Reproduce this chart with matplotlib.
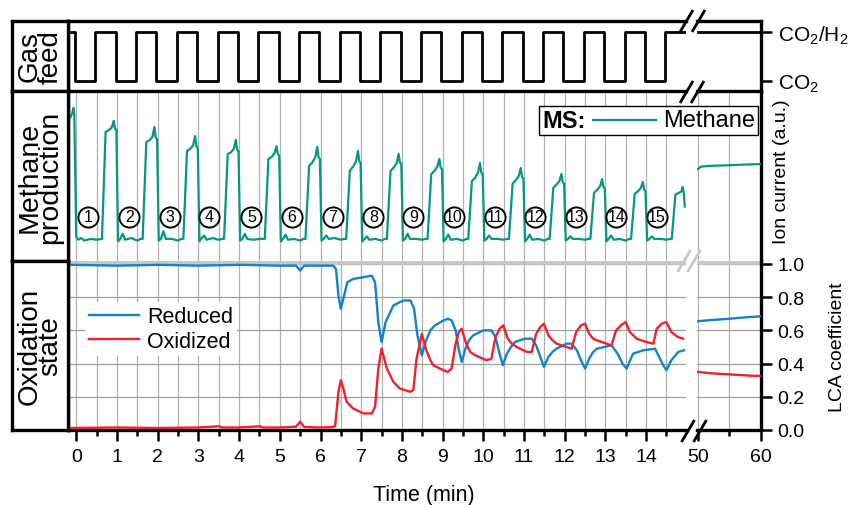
import matplotlib
matplotlib.use("Agg")
import matplotlib.pyplot as plt
from matplotlib.lines import Line2D
from matplotlib.offsetbox import AnchoredOffsetbox, DrawingArea, HPacker, TextArea
from matplotlib.ticker import FormatStrFormatter

plt.rcParams['font.family'] = ['Liberation Sans', 'DejaVu Sans']
plt.rcParams['mathtext.fontset'] = 'custom'
plt.rcParams['mathtext.rm'] = 'Liberation Sans'
plt.rcParams['mathtext.it'] = 'Liberation Sans:italic'
plt.rcParams['mathtext.bf'] = 'Liberation Sans:bold'

W, H = 852, 506

TEAL = '#05977f'
BLUE = '#1281d2'
RED = '#f2202c'
GRID = '#b0b0b0'

# --- gas feed (1 = CO2/H2, 0 = CO2) ---
GAS_T = [-0.2, -0.03, 0.47, 0.97, 1.47, 1.97, 2.47, 2.97, 3.47, 3.97, 4.47,
         4.97, 5.47, 5.97, 6.47, 6.97, 7.47, 7.97, 8.47, 8.97, 9.47, 9.97,
         10.47, 10.97, 11.47, 11.97, 12.47, 12.97, 13.47, 13.97, 14.47, 14.95]
GAS_LEVEL = [1, 0, 1, 0, 1, 0, 1, 0, 1, 0, 1, 0, 1, 0, 1, 0, 1, 0, 1, 0, 1,
             0, 1, 0, 1, 0, 1, 0, 1, 0, 1, 1]
GAS_LATE_T = [50, 60]
GAS_LATE_LEVEL = [1, 1]

# --- methane ion current (a.u.) ---
METH_START_T = [-0.14, -0.10, -0.07, -0.05, 0.0, 0.05, 0.12, 0.2, 0.35, 0.5]
METH_START_V = [8.47, 8.7, 9.0, 8.6, 1.4, 1.25, 1.35, 1.2, 1.3, 1.25]
# offsets inside each cycle and the values read for pulses 1-14
METH_OFFSETS = [0.63, 0.72, 0.80, 0.87, 0.92, 0.95, 0.985, 1.025, 1.08, 1.14,
                1.2, 1.35, 1.5, 1.58]
METH_PULSES = [
    [1.3, 7.59, 7.7, 7.85, 8.25, 7.8, 7.7, 1.15, 1.3, 1.6, 1.25, 1.35, 1.2, 1.3],
    [1.3, 7.0, 7.1, 7.3, 7.88, 7.25, 7.15, 1.2, 1.3, 1.75, 1.3, 1.3, 1.2, 1.3],
    [1.3, 6.47, 6.6, 6.8, 7.35, 6.75, 6.65, 1.15, 1.35, 1.5, 1.25, 1.35, 1.25, 1.3],
    [1.3, 6.29, 6.4, 6.6, 7.12, 6.55, 6.45, 1.2, 1.3, 1.6, 1.3, 1.25, 1.3, 1.3],
    [1.3, 6.0, 6.12, 6.35, 6.76, 6.3, 6.2, 1.15, 1.3, 1.55, 1.25, 1.3, 1.2, 1.3],
    [1.3, 5.6, 5.8, 6.1, 6.71, 6.1, 6.0, 1.2, 1.3, 1.5, 1.3, 1.35, 1.25, 1.3],
    [1.3, 5.3, 5.55, 5.85, 6.47, 5.9, 5.75, 1.15, 1.3, 1.45, 1.25, 1.3, 1.2, 1.3],
    [1.3, 5.3, 5.5, 5.75, 6.29, 5.8, 5.7, 1.2, 1.3, 1.6, 1.3, 1.3, 1.25, 1.3],
    [1.3, 5.1, 5.3, 5.55, 6.0, 5.5, 5.4, 1.15, 1.3, 1.55, 1.25, 1.3, 1.2, 1.3],
    [1.3, 4.7, 4.9, 5.2, 5.76, 5.2, 5.1, 1.2, 1.3, 1.5, 1.3, 1.3, 1.25, 1.3],
    [1.3, 4.55, 4.75, 5.0, 5.47, 4.95, 4.85, 1.15, 1.3, 1.55, 1.25, 1.3, 1.2, 1.3],
    [1.3, 4.3, 4.5, 4.7, 5.12, 4.65, 4.55, 1.2, 1.3, 1.45, 1.3, 1.3, 1.25, 1.3],
    [1.3, 4.0, 4.2, 4.4, 4.82, 4.35, 4.25, 1.15, 1.3, 1.5, 1.25, 1.3, 1.2, 1.3],
    [1.3, 3.95, 4.1, 4.3, 4.65, 4.2, 4.1, 1.2, 1.3, 1.45, 1.3, 1.3, 1.25, 1.3],
]
METH_END_T = [14.63, 14.72, 14.80, 14.87, 14.90, 14.93, 14.95]
METH_END_V = [1.3, 3.9, 4.0, 4.1, 4.35, 3.9, 3.2]
METH_LATE_T = [50, 50.5, 52, 54, 56, 58, 60]
METH_LATE_V = [5.4, 5.55, 5.6, 5.62, 5.65, 5.68, 5.7]

CYCLE_LABELS = [str(i) for i in range(1, 16)]
CYCLE_T = [0.29, 1.3, 2.3, 3.27, 4.3, 5.3, 6.3, 7.3, 8.28, 9.28, 10.28, 11.28,
           12.28, 13.27, 14.27]
CYCLE_V = [2.59] * 15

# --- LCA coefficients ---
RED_T = [-0.18, 1.0, 2.0, 3.0, 3.5, 3.6, 4.0, 4.5, 4.6, 5.0, 5.4, 5.5, 5.6,
         6.0, 6.31, 6.36, 6.44, 6.5, 6.56, 6.64, 6.8, 7.05, 7.26, 7.34, 7.42,
         7.5, 7.63, 7.79, 7.95, 8.21, 8.28, 8.36, 8.49, 8.6, 8.7, 8.77, 9.02,
         9.13, 9.22, 9.32, 9.4, 9.47, 9.58, 9.68, 9.8, 10.08, 10.2, 10.3, 10.4,
         10.49, 10.6, 10.7, 10.82, 11.07, 11.19, 11.3, 11.4, 11.49, 11.6, 11.7,
         11.8, 12.17, 12.28, 12.4, 12.5, 12.6, 12.7, 12.79, 13.15, 13.26,
         13.38, 13.5, 13.6, 13.77, 14.0, 14.18, 14.26, 14.38, 14.5, 14.62,
         14.78, 14.91]
RED_V = [0.012, 0.015, 0.012, 0.015, 0.022, 0.015, 0.015, 0.022, 0.015, 0.015,
         0.02, 0.05, 0.018, 0.015, 0.018, 0.025, 0.23, 0.30, 0.25, 0.17, 0.13,
         0.10, 0.10, 0.14, 0.37, 0.49, 0.37, 0.29, 0.25, 0.23, 0.24, 0.43,
         0.58, 0.48, 0.42, 0.39, 0.36, 0.35, 0.37, 0.52, 0.59, 0.61, 0.52,
         0.47, 0.45, 0.42, 0.43, 0.56, 0.61, 0.63, 0.55, 0.52, 0.50, 0.47,
         0.47, 0.58, 0.62, 0.64, 0.57, 0.54, 0.52, 0.49, 0.59, 0.63, 0.64,
         0.58, 0.55, 0.54, 0.51, 0.60, 0.63, 0.65, 0.59, 0.55, 0.53, 0.52,
         0.61, 0.64, 0.65, 0.59, 0.56, 0.55]
BLUE_T = [-0.18, 1.0, 2.0, 3.0, 4.0, 5.0, 5.4, 5.5, 5.6, 6.0, 6.31, 6.38,
          6.44, 6.5, 6.56, 6.66, 6.8, 7.05, 7.26, 7.34, 7.42, 7.5, 7.6, 7.79,
          7.95, 8.05, 8.21, 8.3, 8.38, 8.49, 8.58, 8.7, 8.81, 9.02, 9.13, 9.22,
          9.32, 9.4, 9.47, 9.56, 9.65, 9.75, 10.0, 10.2, 10.3, 10.4, 10.48,
          10.58, 10.68, 10.78, 11.02, 11.19, 11.3, 11.4, 11.49, 11.6, 11.7,
          11.8, 12.05, 12.17, 12.3, 12.4, 12.5, 12.6, 12.7, 12.79, 13.15, 13.3,
          13.42, 13.52, 13.68, 13.93, 14.22, 14.3, 14.42, 14.5, 14.62, 14.79,
          14.93]
BLUE_V = [0.995, 0.99, 0.995, 0.99, 0.995, 0.99, 0.99, 0.96, 0.99, 0.99, 0.99,
          0.97, 0.81, 0.73, 0.79, 0.89, 0.91, 0.92, 0.93, 0.89, 0.65, 0.53,
          0.65, 0.75, 0.77, 0.78, 0.78, 0.73, 0.57, 0.45, 0.53, 0.60, 0.63,
          0.66, 0.67, 0.66, 0.60, 0.48, 0.41, 0.49, 0.54, 0.57, 0.60, 0.60,
          0.56, 0.46, 0.39, 0.46, 0.50, 0.53, 0.55, 0.55, 0.51, 0.44, 0.38,
          0.44, 0.47, 0.49, 0.52, 0.52, 0.48, 0.42, 0.37, 0.43, 0.47, 0.49,
          0.51, 0.46, 0.40, 0.37, 0.46, 0.48, 0.49, 0.45, 0.39, 0.36, 0.42,
          0.47, 0.48]
LATE_T = [50, 52, 55, 58, 60]
RED_LATE_V = [0.35, 0.342, 0.335, 0.328, 0.325]
BLUE_LATE_V = [0.655, 0.662, 0.67, 0.68, 0.685]

X_MAJOR = list(range(0, 15))
X_MINOR = [0.5, 1.5, 2.5, 3.5, 4.5, 5.5, 6.5, 7.5, 8.5, 9.5, 10.5, 11.5,
           12.5, 13.5, 14.5]
LCA_TICKS = [0.0, 0.2, 0.4, 0.6, 0.8, 1.0]


def rect(x0, y0, x1, y1):
    return [x0 / W, 1 - y1 / H, (x1 - x0) / W, (y1 - y0) / H]


def frame(ax, sides):
    for side, spine in ax.spines.items():
        spine.set_visible(side in sides)
        spine.set_linewidth(2.4)
        spine.set_capstyle('projecting')


def fig_line(x0, y0, x1, y1, color='k', lw=2.0):
    fig.add_artist(Line2D([x0 / W, x1 / W], [1 - y0 / H, 1 - y1 / H],
                          transform=fig.transFigure, color=color, lw=lw,
                          solid_capstyle='butt', zorder=12))


fig = plt.figure(figsize=(W / 100, H / 100), dpi=100)

ox_l = fig.add_axes(rect(68, 262, 686, 431))
meth_l = fig.add_axes(rect(68, 92, 686, 262), sharex=ox_l)
gas_l = fig.add_axes(rect(68, 22, 686, 92), sharex=ox_l)
ox_r = fig.add_axes(rect(697, 262, 761, 431))
meth_r = fig.add_axes(rect(697, 92, 761, 262), sharex=ox_r)
gas_r = fig.add_axes(rect(697, 22, 761, 92), sharex=ox_r)

ox_l.set_xlim(-0.204, 14.98)
ox_r.set_xlim(49.89, 60.0)
for ax in (gas_l, gas_r):
    ax.set_ylim(-0.204, 1.224)
for ax in (meth_l, meth_r):
    ax.set_ylim(0, 10)
for ax in (ox_l, ox_r):
    ax.set_ylim(0, 1.018)

frame(gas_l, ['left', 'top', 'bottom'])
frame(meth_l, ['left'])
frame(ox_l, ['left', 'bottom'])
frame(gas_r, ['right', 'top', 'bottom'])
frame(meth_r, ['right'])
frame(ox_r, ['right', 'bottom'])

# ticks and grids
ox_l.set_xticks(X_MAJOR)
ox_l.set_xticks(X_MINOR, minor=True)
ox_r.set_xticks([50, 60])
ox_r.set_xticks([55], minor=True)
for ax in (ox_l, ox_r):
    ax.tick_params(axis='x', which='major', direction='out', length=8,
                   width=1.8, labelsize=14, pad=5)
    ax.tick_params(axis='x', which='minor', direction='out', length=4.5,
                   width=1.8)
    ax.set_yticks(LCA_TICKS)
    ax.grid(axis='y', color='#9e9e9e', lw=0.9)
    ax.axhline(1.013, color='#c8c8c8', lw=3.4, zorder=1.8)
ox_l.tick_params(axis='y', left=False, labelleft=False)
ox_r.tick_params(axis='y', left=False, labelleft=False, right=True,
                 labelright=True, direction='out', length=8, width=1.8,
                 labelsize=14, pad=4)
ox_r.yaxis.set_major_formatter(FormatStrFormatter('%.1f'))

for ax in (meth_l, meth_r):
    ax.tick_params(which='both', bottom=False, labelbottom=False,
                   left=False, labelleft=False)
for ax in (meth_l, ox_l, meth_r, ox_r):
    ax.grid(axis='x', which='both', color=GRID, lw=0.9)

for ax in (gas_l, gas_r):
    ax.tick_params(which='both', bottom=False, labelbottom=False,
                   left=False, labelleft=False)
gas_r.set_yticks([0, 1])
gas_r.set_yticklabels([r'CO$_\mathregular{2}$',
                       r'CO$_\mathregular{2}$/H$_\mathregular{2}$'])
gas_r.tick_params(axis='y', right=True, labelright=True, direction='out',
                  length=8, width=1.8, labelsize=15, pad=4)

# data
gas_l.plot(GAS_T, GAS_LEVEL, drawstyle='steps-post', color='k', lw=2.0)
gas_r.plot(GAS_LATE_T, GAS_LATE_LEVEL, color='k', lw=2.0)

meth_t = list(METH_START_T)
meth_v = list(METH_START_V)
for k, row in enumerate(METH_PULSES):
    meth_t += [k + o for o in METH_OFFSETS]
    meth_v += row
meth_t += METH_END_T
meth_v += METH_END_V
meth_l.plot(meth_t, meth_v, color=TEAL, lw=1.6, zorder=3)
meth_r.plot(METH_LATE_T, METH_LATE_V, color=TEAL, lw=1.6, zorder=3)

meth_l.plot(CYCLE_T, CYCLE_V, 'o', ms=14.5, mfc='white', mec='k', mew=1.4,
            zorder=4)
for t, v, lab in zip(CYCLE_T, CYCLE_V, CYCLE_LABELS):
    meth_l.text(t, v, lab, ha='center', va='center', fontsize=11.5, zorder=5)

h_blue, = ox_l.plot(BLUE_T, BLUE_V, color=BLUE, lw=1.7, zorder=3)
h_red, = ox_l.plot(RED_T, RED_V, color=RED, lw=1.7, zorder=3)
ox_r.plot(LATE_T, BLUE_LATE_V, color=BLUE, lw=1.7, zorder=3)
ox_r.plot(LATE_T, RED_LATE_V, color=RED, lw=1.7, zorder=3)

leg = ox_l.legend([h_blue, h_red], ['Reduced', 'Oxidized'], loc='upper left',
                  bbox_to_anchor=(0.027, 0.757), borderaxespad=0,
                  fontsize=15.5, handlelength=2.3, handletextpad=0.4,
                  labelspacing=0.15, borderpad=0.2, fancybox=False,
                  framealpha=1, edgecolor='none')

# MS legend box spanning the break
ms_area = DrawingArea(45, 12, 0, 0)
ms_area.add_artist(Line2D([0, 45], [6, 6], color=TEAL, lw=1.6))
ms_pack = HPacker(children=[TextArea('MS:', textprops=dict(fontsize=17, fontweight='bold')),
                            ms_area,
                            TextArea('Methane', textprops=dict(fontsize=17))],
                  align='center', pad=0, sep=5.5)
ms_box = AnchoredOffsetbox(loc='upper right', child=ms_pack, pad=0.2,
                           borderpad=0, frameon=True,
                           bbox_to_anchor=(758 / W, 1 - 107 / H),
                           bbox_transform=fig.transFigure)
ms_box.patch.set_edgecolor('k')
ms_box.patch.set_linewidth(1.0)
ms_box.set_zorder(10)
fig.add_artist(ms_box)

# label boxes on the left
for (y0, y1), label, size in [((22, 92), 'Gas\nfeed', 20),
                              ((92, 262), 'Methane\nproduction', 20.5),
                              ((262, 431), 'Oxidation\nstate', 20)]:
    lab_ax = fig.add_axes(rect(12, y0, 68, y1))
    frame(lab_ax, ['left', 'right', 'top', 'bottom'])
    lab_ax.set_xticks([])
    lab_ax.set_yticks([])
    lab_ax.text(0.5, 0.5, label, rotation=90, ha='center', va='center',
                multialignment='center', fontsize=size, linespacing=0.72,
                transform=lab_ax.transAxes)

# axis titles
fig.text(424 / W, 1 - 496 / H, 'Time (min)', ha='center', va='center',
         fontsize=15.5)
fig.text(781 / W, 1 - 172 / H, 'Ion current (a.u.)', rotation=90,
         ha='center', va='center', fontsize=14)
fig.text(837 / W, 1 - 347 / H, 'LCA coefficient', rotation=90,
         ha='center', va='center', fontsize=14)

# axis break marks
for yc, xcs, color in [(22, (686.5, 698.5), 'k'), (93, (686.5, 697.5), 'k'),
                       (432, (688, 700), 'k'), (262, (684, 694), '#c8c8c8')]:
    for xc in xcs:
        fig_line(xc - 6.5, yc + 11, xc + 6.5, yc - 11, color=color, lw=2.0)

fig.savefig('out.png', dpi=100)
